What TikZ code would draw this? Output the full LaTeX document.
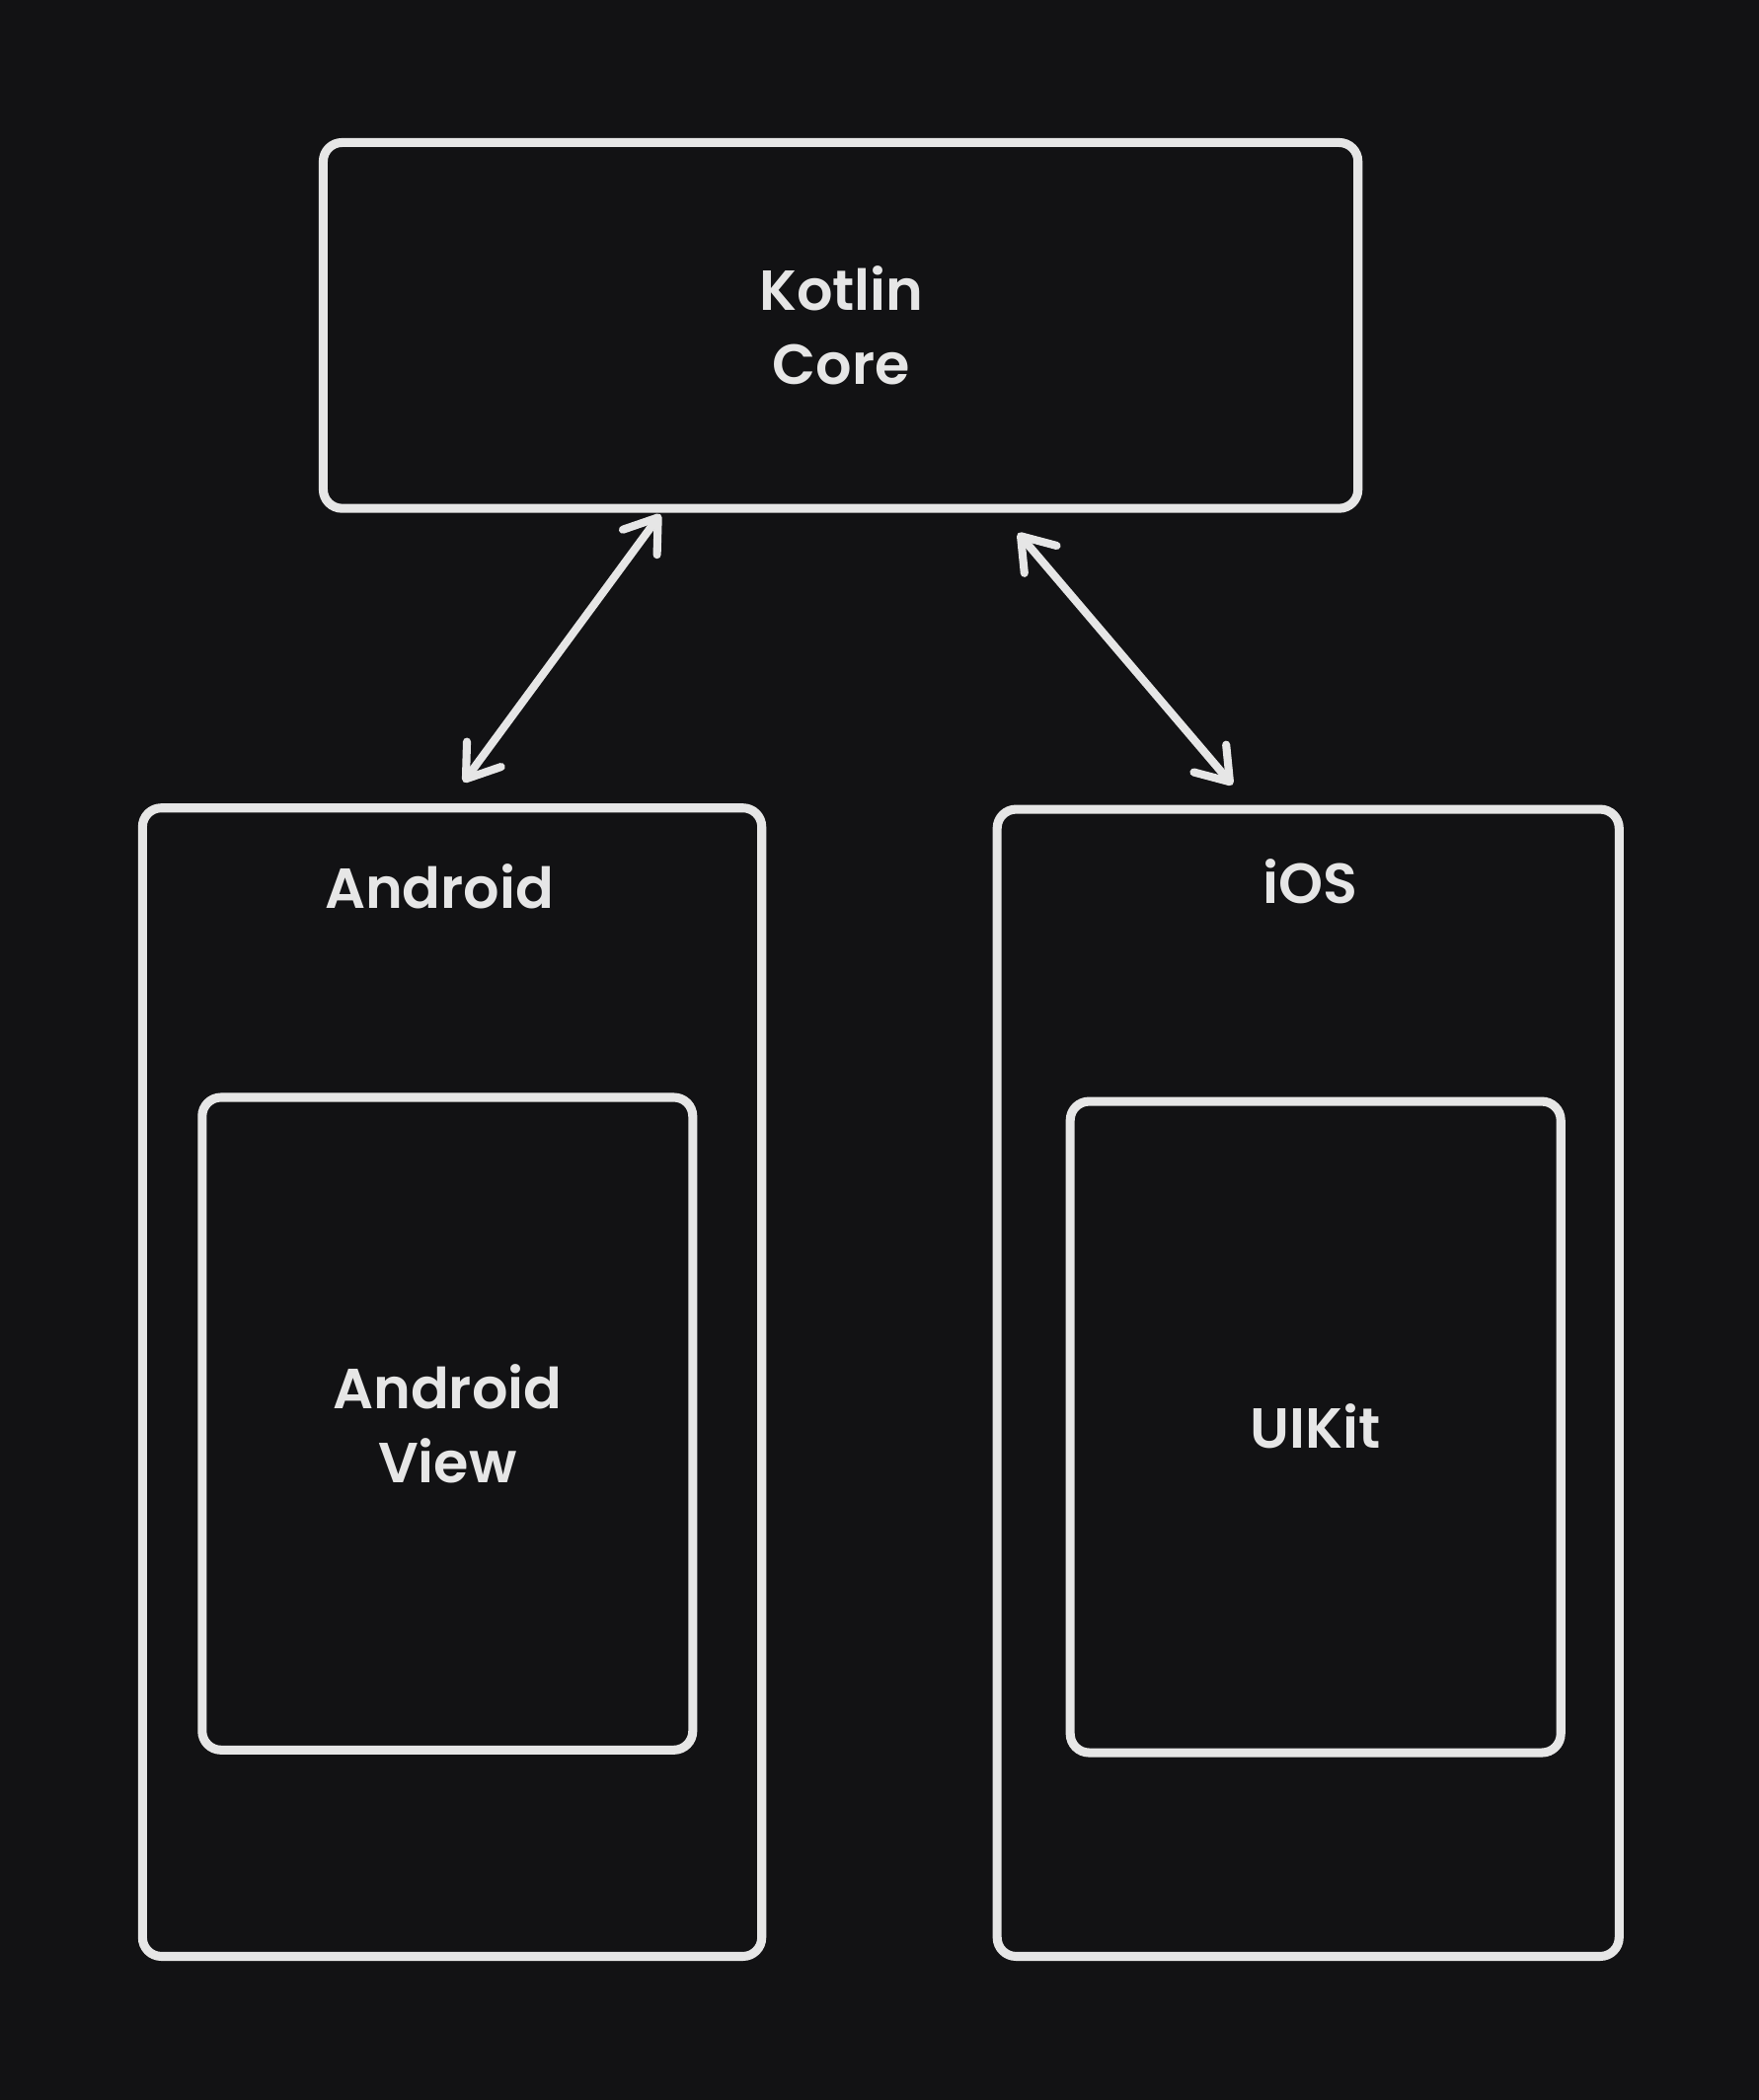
\documentclass[tikz,border=0pt]{standalone}
\usepackage{fontspec}
\setmainfont{Poppins}[UprightFont={* SemiBold}]
\usetikzlibrary{arrows.meta}
\definecolor{bgc}{HTML}{121214}
\definecolor{ink}{HTML}{E6E6E6}
\begin{document}
\begin{tikzpicture}[x=0.01cm,y=-0.01cm,
  box/.style={draw=ink,line width=1.9pt,rounded corners=4pt,inner sep=0pt},
  lbl/.style={text=ink,font=\fontsize{12}{15.6}\selectfont,align=center,inner sep=0pt},
  tip/.style={Straight Barb[length=6.5pt,width=9pt,line width=1.7pt,round]},
  conn/.style={draw=ink,line width=1.7pt,line cap=round,{Straight Barb[length=6.5pt,width=9pt,line width=1.7pt,round]}-{Straight Barb[length=6.5pt,width=9pt,line width=1.7pt,round]}}]
\fill[bgc] (0,0) rectangle (1313,1568);
\useasboundingbox (0,0) rectangle (1313,1568);
\node[box,minimum width=7.72cm,minimum height=2.73cm] (kotlin) at (627.5,243) {};
\node[lbl] (kotlintxt) at (628,243) {Kotlin\\Core};
\node[box,minimum width=4.62cm,minimum height=8.57cm] (android) at (337.5,1032) {};
\node[lbl] (androidtxt) at (328,662) {Android};
\node[box,minimum width=3.66cm,minimum height=4.87cm] (aview) at (334,1063) {};
\node[lbl] (aviewtxt) at (334,1063) {Android\\View};
\node[box,minimum width=4.64cm,minimum height=8.56cm] (ios) at (976.5,1032.5) {};
\node[lbl] (iostxt) at (978,658) {iOS};
\node[box,minimum width=3.66cm,minimum height=4.86cm] (uikit) at (982,1065.5) {};
\node[lbl] (uikittxt) at (982,1065) {UIKit};
\coordinate (a1) at (493,384);
\coordinate (a2) at (346,584);
\coordinate (b1) at (760,398);
\coordinate (b2) at (920,586);
\draw[conn] (a1) -- (a2);
\draw[conn] (b1) -- (b2);
\end{tikzpicture}
\end{document}
